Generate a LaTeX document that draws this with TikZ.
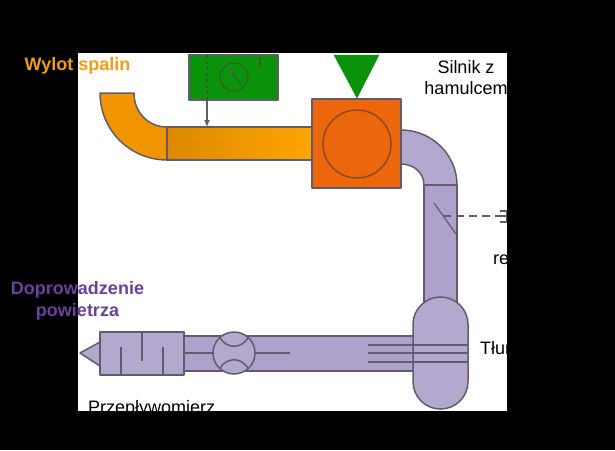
\documentclass[tikz,border=0pt]{standalone}
\usepackage{fontspec}
\setmainfont{Liberation Sans}
\usetikzlibrary{arrows.meta}
\definecolor{edge}{HTML}{635A6E}
\definecolor{lil}{HTML}{B3A8CE}
\definecolor{lilb}{HTML}{AEA2CC}
\definecolor{oran}{HTML}{F09400}
\definecolor{gr}{HTML}{0A920A}
\definecolor{grline}{HTML}{2F5F2F}
\definecolor{mot}{HTML}{EC660C}
\definecolor{motline}{HTML}{8A4A20}
\definecolor{pur}{HTML}{6B3FA0}
\definecolor{otxt}{HTML}{F29B14}
\tikzset{
  part/.style={draw=edge,line width=1.5pt,line join=round},
  lilac/.style={part,fill=lil},
  lbltxt/.style={inner sep=0pt,font=\fontsize{18}{20}\selectfont,text=black,anchor=base},
  captxt/.style={inner sep=0pt,font=\fontsize{18}{22}\bfseries\selectfont,align=center}
}
\begin{document}
\begin{tikzpicture}[x=1pt,y=-1pt]
\useasboundingbox (0,0) rectangle (615,450);
\fill[black] (0,0) rectangle (615,450);
\fill[white] (78,53) rectangle (507,411);
% exhaust
\draw[part,fill=oran] (100,93) -- (134,93) .. controls (134,112) and (148,127) .. (167,127) -- (167,160) .. controls (130,160) and (100,130) .. cycle;
\draw[part,left color=oran!92!black,right color=orange!70!yellow] (167,127) rectangle (312,160);
% instrument
\node[part,fill=gr,minimum width=89pt,minimum height=45pt,inner sep=0pt] (gauge) at (233.5,77.5) {};
\node[draw=grline,line width=1.2pt,circle,minimum size=28pt,inner sep=0pt] (dial) at (234,77) {};
\draw[grline,line width=1.2pt] (232,73) -- (242,86);
\draw[edge,line width=2pt] (228,70) -- (232,73);
\draw[grline,line width=1.2pt] (260,57) -- (260,66);
\draw[grline,line width=1.2pt,dashed] (207,55) -- (207,100);
\coordinate (tap) at (207,127);
\draw[edge,line width=1.5pt,-{Latex[length=7pt,width=6pt]}] (207,100) -- (tap);
% motor
\node[part,fill=mot,minimum size=89pt,inner sep=0pt] (motor) at (356.5,143.5) {};
\node[draw=motline,line width=1.5pt,circle,minimum size=68pt,inner sep=0pt] (rotor) at (357,144) {};
\draw[fill=gr,draw=gr,line join=round] (334,55) -- (379,55) -- (357,98) -- cycle;
% purple elbow and riser
\draw[lilac] (401,130) .. controls (432,130) and (457,155) .. (457,185) -- (424,185) .. controls (424,173) and (414,164) .. (401,164) -- cycle;
\draw[part,fill=lilb] (424,185) rectangle (457,310);
\draw[edge,line width=1.2pt] (434,203) -- (456,234);
\draw[edge,line width=1.5pt,dash pattern=on 8pt off 5pt] (443,216) -- (500,216);
\draw[edge,line width=1.5pt] (500,211) -- (507,211) (500,216) -- (507,216) (500,222) -- (507,222) (506.5,211) -- (506.5,222);
% horizontal duct
\draw[part,fill=lilb] (184,336) rectangle (420,371);
% filter
\draw[lilac] (100,342) -- (80,353) -- (100,366) -- cycle;
\node[lilac,minimum width=84pt,minimum height=43pt,inner sep=0pt] (filter) at (142,353.5) {};
\draw[edge,line width=1.5pt] (121,347) -- (121,375) (142,332) -- (142,361) (163,347) -- (163,375);
% flow meter
\node[lilac,circle,minimum size=42pt,inner sep=0pt] (meter) at (234,353) {};
\draw[edge,line width=1.5pt] (220,338) .. controls (227,349) and (241,349) .. (248,338);
\draw[edge,line width=1.5pt] (220,368) .. controls (227,357) and (241,357) .. (248,368);
\draw[edge,line width=1.5pt] (184,353) -- (213,353) (255,353) -- (290,353);
% silencer
\draw[lilac,rounded corners=27.4pt] (413,297) rectangle (468,409);
\draw[edge,line width=1.5pt] (368,345) -- (468,345) (368,353) -- (468,353) (368,362) -- (468,362);
% texts
\node[captxt,text=otxt,anchor=base] (wylot) at (77.5,70.5) {Wylot spalin};
\node[captxt,text=pur] (air) at (77.5,301) {Doprowadzenie\\powietrza};
\node[lbltxt] (silnik) at (466,73) {Silnik z};
\begin{scope}
\clip (78,53) rectangle (507,411);
\node[lbltxt] (ham) at (466,94) {hamulcem};
\node[lbltxt,anchor=base west] (tl) at (480,354) {Tłum};
\node[lbltxt,anchor=base west] (re) at (493,264) {re};
\node[lbltxt,anchor=base west] (prz) at (88,413) {Przepływomierz};
\end{scope}
\end{tikzpicture}
\end{document}
